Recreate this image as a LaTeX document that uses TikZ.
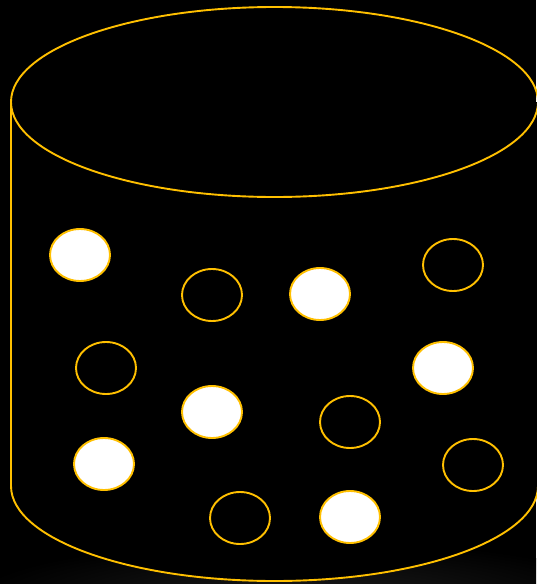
\documentclass[tikz,border=0pt]{standalone}
\begin{document}
\begin{tikzpicture}[x=1pt,y=-1pt,
  gold/.style={draw={rgb,255:red,255;green,192;blue,0}, line width=1.9pt},
  fullball/.style={gold, fill=white},
  emptyball/.style={gold, fill=black}]
\fill[black] (0,0) rectangle (536,584);
\useasboundingbox (0,0) rectangle (536,584);
% faint floor glow
\begin{scope}
\clip (0,530) rectangle (536,584);
\shade[inner color={rgb,255:red,28;green,28;blue,28}, outer color=black] (300,600) ellipse (330 and 60);
\end{scope}
\fill[black] (11,102) -- (11,486) arc[start angle=180,end angle=0,x radius=263.5,y radius=95] -- (538,102) -- cycle;
% cylinder
\draw[gold] (274.5,102) ellipse[x radius=263.5,y radius=95];
\draw[gold] (11,102) -- (11,486) arc[start angle=180,end angle=0,x radius=263.5,y radius=95] -- (538,102);
% balls
\foreach \x/\y in {80/255, 320/294, 212/412, 443/368, 104/464, 350/517}
  \draw[fullball] (\x,\y) ellipse[x radius=30,y radius=26];
\foreach \x/\y in {212/295, 453/265, 106/368, 350/422, 473/465, 240/518}
  \draw[emptyball] (\x,\y) ellipse[x radius=30,y radius=26];
\end{tikzpicture}
\end{document}
